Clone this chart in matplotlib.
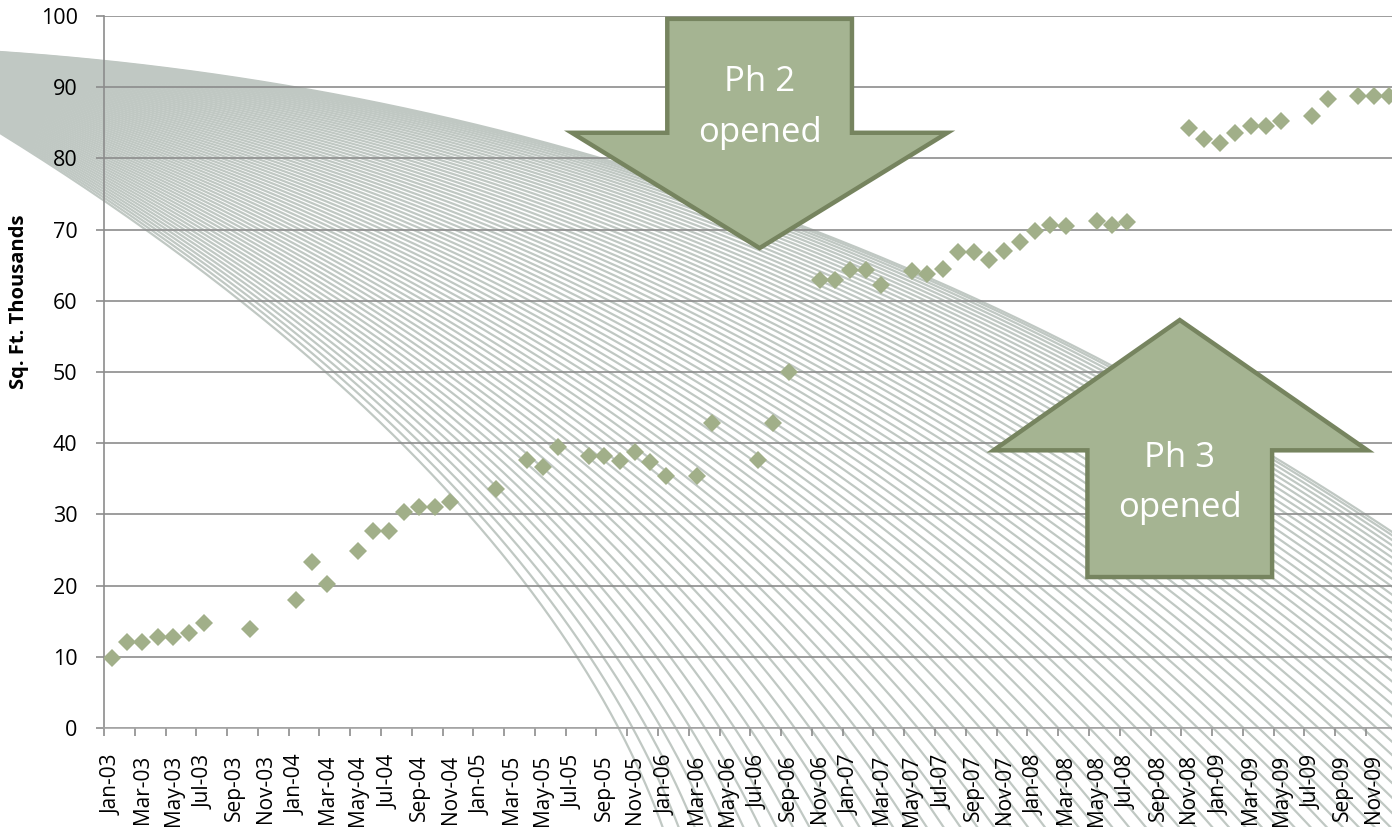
import numpy as np
import matplotlib
matplotlib.use("Agg")
import matplotlib.pyplot as plt
from matplotlib.patches import Polygon

# monthly readings (missing months are simply not in the list)
months = ["2003-01", "2003-02", "2003-03", "2003-04", "2003-05", "2003-06", "2003-07", "2003-10",
          "2004-01", "2004-02", "2004-03", "2004-05", "2004-06", "2004-07", "2004-08", "2004-09",
          "2004-10", "2004-11", "2005-02", "2005-04", "2005-05", "2005-06", "2005-08", "2005-09",
          "2005-10", "2005-11", "2005-12", "2006-01", "2006-03", "2006-04", "2006-07", "2006-08",
          "2006-09", "2006-11", "2006-12", "2007-01", "2007-02", "2007-03", "2007-05", "2007-06",
          "2007-07", "2007-08", "2007-09", "2007-10", "2007-11", "2007-12", "2008-01", "2008-02",
          "2008-03", "2008-05", "2008-06", "2008-07", "2008-11", "2008-12", "2009-01", "2009-02",
          "2009-03", "2009-04", "2009-05", "2009-07", "2009-08", "2009-10", "2009-11", "2009-12"]
sqft = [9.9, 12.1, 12.1, 12.8, 12.8, 13.4, 14.8, 13.9,
        18.0, 23.3, 20.2, 24.8, 27.6, 27.6, 30.4, 31.1,
        31.1, 31.8, 33.6, 37.6, 36.6, 39.4, 38.2, 38.2,
        37.5, 38.8, 37.3, 35.4, 35.4, 42.8, 37.6, 42.8,
        50.0, 62.9, 62.9, 64.3, 64.3, 62.2, 64.2, 63.8,
        64.4, 66.8, 66.8, 65.7, 67.0, 68.3, 69.8, 70.7,
        70.5, 71.2, 70.6, 71.1, 84.3, 82.7, 82.1, 83.6,
        84.5, 84.5, 85.3, 86.0, 88.4, 88.7, 88.7, 88.7]

mon_names = ["Jan", "Feb", "Mar", "Apr", "May", "Jun", "Jul", "Aug", "Sep", "Oct", "Nov", "Dec"]
tick_labels = [f"{mon_names[m]}-{y % 100:02d}" for y in range(2003, 2010) for m in range(0, 12, 2)]

annotations = [("Ph 2", "opened"), ("Ph 3", "opened")]

GREEN = "#a1af89"
ARROW_FILL = "#a5b492"
ARROW_EDGE = "#76845f"
GRID = "#8c8c8c"
FONT = "Open Sans"

W, H = 1392, 827
fig = plt.figure(figsize=(W / 100, H / 100), dpi=100)

# decorative hatched fan in the background (pixel coords, cubic bezier curves)
bg = fig.add_axes([0, 0, 1, 1], zorder=0)
bg.set_xlim(0, W)
bg.set_ylim(H, 0)
bg.axis("off")
top_ctrl = np.array([(0, 52), (633, 95), (1267, 340), (1900, 940)], dtype=float)
bot_ctrl = np.array([(0, 133), (420, 393), (680, 700), (700, 1000)], dtype=float)
u = np.linspace(0, 1, 400)[:, None]
basis = [(1 - u) ** 3, 3 * u * (1 - u) ** 2, 3 * u ** 2 * (1 - u), u ** 3]
for t in np.linspace(0, 1, 75) ** 1.25:
    ctrl = top_ctrl + t * (bot_ctrl - top_ctrl)
    pts = sum(b * c for b, c in zip(basis, ctrl))
    bg.plot(pts[:, 0], pts[:, 1], color="#c0c8c3", lw=1.6, solid_capstyle="butt")

# main chart
px_month = 15.39
left, y0px, y100px = 104, 728, 16
ax = fig.add_axes([left / W, 1 - y0px / H, 84 * px_month / W, (y0px - y100px) / H], zorder=1)
ax.set_facecolor("none")

x = [(int(m[:4]) - 2003) * 12 + int(m[5:]) - 1 + 0.5 for m in months]
ax.plot(x, sqft, linestyle="none", marker="D", ms=9.6, mew=0, color=GREEN, zorder=5)

ax.set_xlim(0, 84)
ax.set_ylim(0, 100)
ax.set_yticks(range(0, 101, 10))
ax.yaxis.grid(True, color=GRID, lw=1.2, zorder=0)
ax.set_axisbelow(True)

ax.set_xticks(np.arange(0, 83, 2))
ax.set_xticklabels([])
ax.set_xticks(np.arange(0, 83, 2) + 0.5, minor=True)
ax.set_xticklabels(tick_labels, minor=True, rotation=90, fontsize=15, family=FONT)
ax.tick_params(axis="x", which="major", length=6, color=GRID, width=1.2)
ax.tick_params(axis="x", which="minor", length=0, pad=19)
ax.tick_params(axis="y", length=6, color=GRID, width=1.2, pad=13, labelsize=15.5)
for lab in ax.get_yticklabels():
    lab.set_family(FONT)

for s in ["top", "right"]:
    ax.spines[s].set_visible(False)
ax.spines["left"].set_color(GRID)
ax.spines["bottom"].set_color("#a6a6a6")
ax.spines["left"].set_linewidth(1.2)
ax.spines["bottom"].set_linewidth(1.2)

ax.set_ylabel("Sq. Ft. Thousands", fontsize=14.5, fontweight="bold", family=FONT)
ax.yaxis.set_label_coords(-0.058, 0.598)

# block arrows (month / value coords)
down = [(36.6, 99.6), (48.6, 99.6), (48.6, 83.6), (54.8, 83.6), (42.6, 67.4), (30.4, 83.6), (36.6, 83.6)]
up = [(63.9, 21.2), (75.9, 21.2), (75.9, 39.0), (82.1, 39.0), (69.9, 57.3), (57.8, 39.0), (63.9, 39.0)]
for pts in (down, up):
    ax.add_patch(Polygon(pts, closed=True, facecolor=ARROW_FILL, edgecolor=ARROW_EDGE,
                         lw=3.2, joinstyle="miter", zorder=4, clip_on=False))

ax.text(42.6, 90.7, annotations[0][0], ha="center", va="center", color="white", fontsize=25, family=FONT, zorder=6)
ax.text(42.6, 83.6, annotations[0][1], ha="center", va="center", color="white", fontsize=25, family=FONT, zorder=6)
ax.text(69.9, 37.9, annotations[1][0], ha="center", va="center", color="white", fontsize=25, family=FONT, zorder=6)
ax.text(69.9, 30.9, annotations[1][1], ha="center", va="center", color="white", fontsize=25, family=FONT, zorder=6)

fig.savefig("out.png", dpi=100)
